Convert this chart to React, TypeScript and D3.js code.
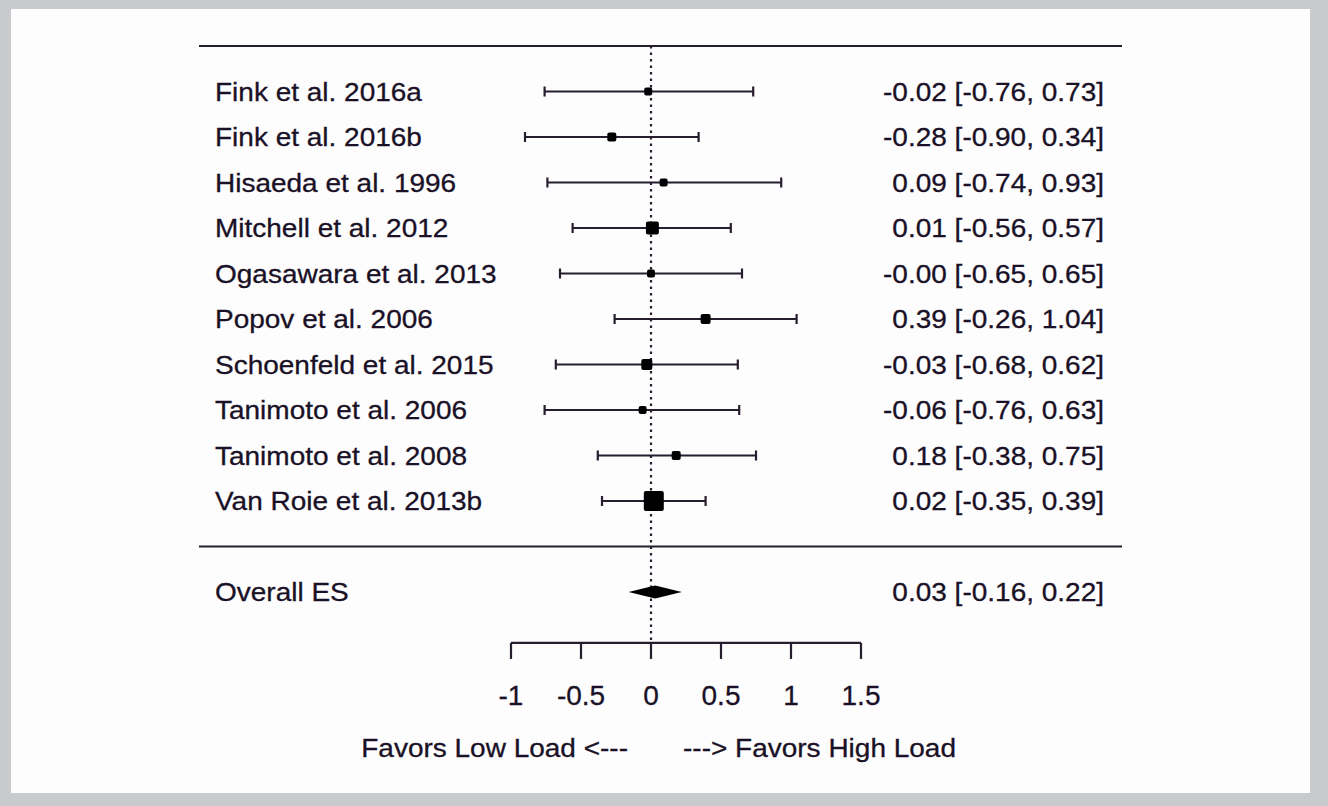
import React from "react";
import * as d3 from "d3";

const studies = [
  "Fink et al. 2016a",
  "Fink et al. 2016b",
  "Hisaeda et al. 1996",
  "Mitchell et al. 2012",
  "Ogasawara et al. 2013",
  "Popov et al. 2006",
  "Schoenfeld et al. 2015",
  "Tanimoto et al. 2006",
  "Tanimoto et al. 2008",
  "Van Roie et al. 2013b",
];
const es = [-0.02, -0.28, 0.09, 0.01, -0.0, 0.39, -0.03, -0.06, 0.18, 0.02];
const lower = [-0.76, -0.9, -0.74, -0.56, -0.65, -0.26, -0.68, -0.76, -0.38, -0.35];
const upper = [0.73, 0.34, 0.93, 0.57, 0.65, 1.04, 0.62, 0.63, 0.75, 0.39];
const weights = [5.4, 6.9, 5.4, 14.3, 4.2, 8.5, 10.3, 4.2, 6.9, 34.0];
const overall = { label: "Overall ES", es: 0.03, lower: -0.16, upper: 0.22 };
const xTicks = [-1, -0.5, 0, 0.5, 1, 1.5];
const leftNote = "Favors Low Load <---";
const rightNote = "---> Favors High Load";

const W = 1328;
const H = 806;
const ink = "#1a1126";
const lineInk = "#261e2e";
const fontFamily = "'Liberation Sans', Arial, Helvetica, sans-serif";
const sx = 1.12;

const fmt = (v: number) => (Math.abs(v) < 0.005 && Object.is(v, -0) ? "-0.00" : v.toFixed(2));

export default function App() {
  const x = d3.scaleLinear().domain([-1, 1.5]).range([511, 861]);
  const y = d3.scaleLinear().domain([0, 10]).range([46, 501]);
  const side = d3.scaleSqrt().domain([0, d3.max(weights) as number]).range([0, 20]);
  const axisY = y(13.12);
  const fs = 25;

  const T = (props: { x: number; y: number; anchor?: string; size?: number; stretch?: number; children: React.ReactNode }) => (
    <text
      transform={`translate(${props.x},${props.y}) scale(${props.stretch ?? sx},1)`}
      textAnchor={props.anchor ?? "start"}
      fontSize={props.size ?? fs}
      fontFamily={fontFamily}
      fill={ink}
      stroke={ink}
      strokeWidth={0.3}
    >
      {props.children}
    </text>
  );

  const diamond = [
    [x(overall.lower), y(12)],
    [x(overall.es), y(12) - 6.5],
    [x(overall.upper), y(12)],
    [x(overall.es), y(12) + 6.5],
  ];

  return (
    <svg
      width={W}
      height={H}
      style={{ position: "fixed", left: 0, top: 0, display: "block" }}
      xmlns="http://www.w3.org/2000/svg"
    >
      <rect x={0} y={0} width={W} height={H} fill="#c9cacd" />
      <rect x={11} y={9} width={1299} height={784} fill="#fdfdfe" />

      <line x1={199} x2={1122} y1={y(0)} y2={y(0)} stroke={lineInk} strokeWidth={2} />
      <line x1={199} x2={1122} y1={y(11)} y2={y(11)} stroke={lineInk} strokeWidth={2} />

      <line
        x1={x(0)}
        x2={x(0)}
        y1={y(0)}
        y2={axisY}
        stroke={lineInk}
        strokeWidth={2.2}
        strokeDasharray="2.5,4"
      />

      {studies.map((s, i) => {
        const yy = y(i + 1);
        const sd = Math.max(8, side(weights[i]));
        return (
          <g key={s}>
            <line x1={x(lower[i])} x2={x(upper[i])} y1={yy} y2={yy} stroke={lineInk} strokeWidth={2.2} />
            <line x1={x(lower[i])} x2={x(lower[i])} y1={yy - 5} y2={yy + 5} stroke={lineInk} strokeWidth={2.2} />
            <line x1={x(upper[i])} x2={x(upper[i])} y1={yy - 5} y2={yy + 5} stroke={lineInk} strokeWidth={2.2} />
            <rect x={x(es[i]) - sd / 2} y={yy - sd / 2} width={sd} height={sd} fill="#000" rx={2} />
            <T x={215} y={yy + 9}>{s}</T>
            <T x={1104} y={yy + 9} anchor="end">
              {`${fmt(es[i])} [${fmt(lower[i])}, ${fmt(upper[i])}]`}
            </T>
          </g>
        );
      })}

      <polygon points={diamond.map((p) => p.join(",")).join(" ")} fill="#000" />
      <T x={215} y={y(12) + 9}>{overall.label}</T>
      <T x={1104} y={y(12) + 9} anchor="end">
        {`${fmt(overall.es)} [${fmt(overall.lower)}, ${fmt(overall.upper)}]`}
      </T>

      <line x1={x(-1)} x2={x(1.5)} y1={axisY} y2={axisY} stroke={lineInk} strokeWidth={2.2} />
      {xTicks.map((t) => (
        <g key={t}>
          <line x1={x(t)} x2={x(t)} y1={axisY} y2={axisY + 16} stroke={lineInk} strokeWidth={2.2} />
          <T x={x(t)} y={705} anchor="middle" size={28} stretch={1.0}>
            {String(t)}
          </T>
        </g>
      ))}

      <T x={628} y={757} anchor="end">{leftNote}</T>
      <T x={683} y={757}>{rightNote}</T>
    </svg>
  );
}
